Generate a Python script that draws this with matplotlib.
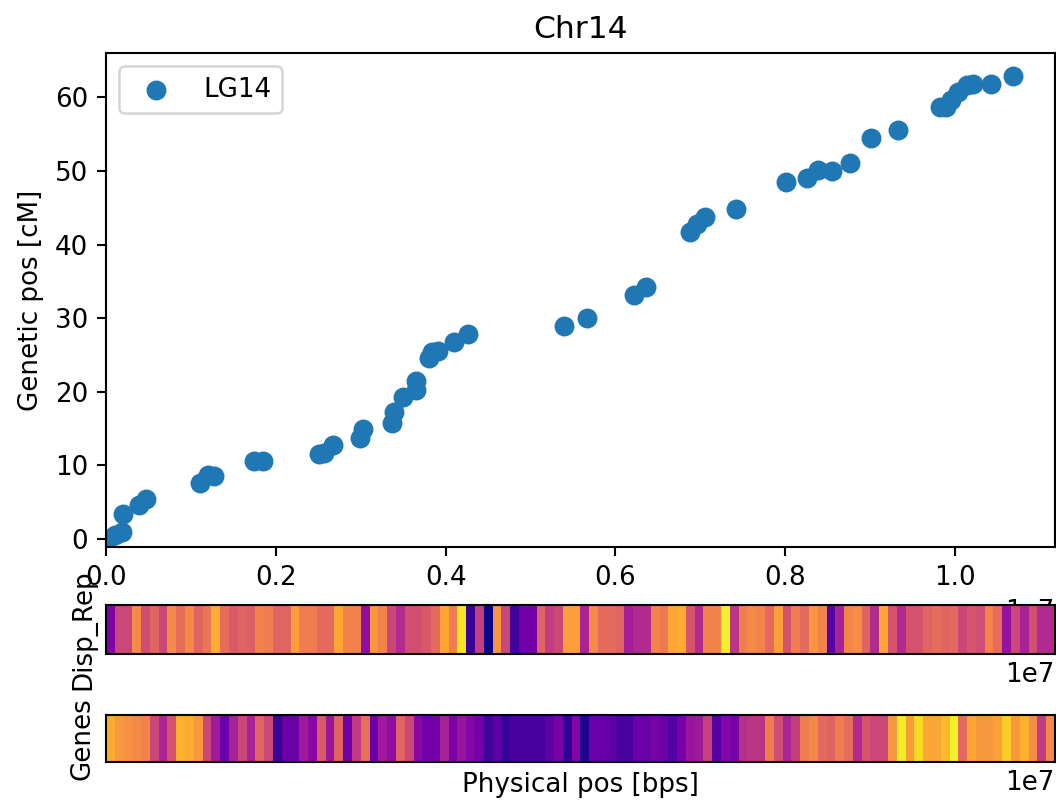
import numpy as np
import matplotlib
matplotlib.use("Agg")
import matplotlib.pyplot as plt

# marker positions (physical pos in units of 1e7 bp, genetic pos in cM)
phys_pos = np.array([0.002, 0.010, 0.018, 0.020, 0.039, 0.047, 0.110, 0.120, 0.127,
                     0.174, 0.184, 0.250, 0.256, 0.267, 0.299, 0.302, 0.337, 0.339,
                     0.349, 0.365, 0.365, 0.380, 0.384, 0.391, 0.410, 0.426, 0.539,
                     0.567, 0.622, 0.636, 0.688, 0.696, 0.706, 0.742, 0.801, 0.826,
                     0.839, 0.855, 0.876, 0.901, 0.933, 0.983, 0.990, 0.996, 1.004,
                     1.014, 1.021, 1.043, 1.068]) * 1e7
gen_pos = np.array([0.0, 0.6, 1.0, 3.4, 4.6, 5.5, 7.6, 8.7, 8.6,
                    10.6, 10.6, 11.6, 11.7, 12.8, 13.7, 15.0, 15.8, 17.3,
                    19.3, 20.2, 21.5, 24.6, 25.4, 25.6, 26.7, 27.9, 28.9,
                    30.0, 33.1, 34.2, 41.7, 42.8, 43.8, 44.8, 48.5, 49.1,
                    50.1, 50.0, 51.1, 54.5, 55.6, 58.7, 58.7, 59.6, 60.8,
                    61.7, 61.8, 61.8, 62.9])
chrom_len = 1.118e7

# binned densities along the chromosome (normalised 0..1)
disp_rep = np.array([
    0.25, 0.50, 0.50, 0.72, 0.52, 0.60, 0.50, 0.72, 0.63, 0.72,
    0.60, 0.66, 0.82, 0.63, 0.57, 0.60, 0.58, 0.70, 0.68, 0.60,
    0.60, 0.78, 0.68, 0.68, 0.62, 0.62, 0.80, 0.70, 0.70, 0.30,
    0.76, 0.70, 0.50, 0.40, 0.53, 0.53, 0.56, 0.62, 0.80, 0.68,
    0.95, 0.08, 0.47, 0.00, 0.75, 0.50, 0.10, 0.22, 0.22, 0.60,
    0.47, 0.50, 0.78, 0.78, 0.38, 0.72, 0.62, 0.62, 0.60, 0.36,
    0.40, 0.40, 0.70, 0.67, 0.80, 0.82, 0.55, 0.40, 0.70, 0.70,
    0.98, 0.44, 0.68, 0.72, 0.70, 0.62, 0.78, 0.54, 0.68, 0.62,
    0.75, 0.70, 0.15, 0.37, 0.71, 0.73, 0.60, 0.40, 0.80, 0.54,
    0.40, 0.54, 0.54, 0.60, 0.63, 0.60, 0.62, 0.50, 0.55, 0.52,
    0.70, 0.63, 0.32, 0.50, 0.37, 0.53, 0.40, 0.40])
genes = np.array([
    0.82, 0.76, 0.74, 0.72, 0.70, 0.50, 0.38, 0.54, 0.83, 0.82,
    0.76, 0.50, 0.35, 0.20, 0.37, 0.50, 0.37, 0.60, 0.50, 0.08,
    0.20, 0.20, 0.34, 0.28, 0.57, 0.33, 0.60, 0.22, 0.46, 0.64,
    0.20, 0.34, 0.30, 0.60, 0.50, 0.28, 0.22, 0.22, 0.37, 0.24,
    0.33, 0.27, 0.23, 0.10, 0.18, 0.07, 0.12, 0.12, 0.12, 0.12,
    0.17, 0.24, 0.06, 0.27, 0.03, 0.20, 0.20, 0.18, 0.12, 0.12,
    0.20, 0.20, 0.24, 0.21, 0.15, 0.24, 0.33, 0.34, 0.48, 0.15,
    0.27, 0.24, 0.42, 0.44, 0.44, 0.68, 0.52, 0.38, 0.47, 0.68,
    0.72, 0.62, 0.60, 0.68, 0.63, 0.40, 0.55, 0.50, 0.50, 0.76,
    0.97, 0.77, 0.93, 0.80, 0.80, 0.85, 0.98, 0.62, 0.80, 0.76,
    0.76, 0.78, 0.90, 0.76, 0.83, 0.73, 0.46, 0.72])

W, H, DPI = 1056, 805, 188
fig = plt.figure(figsize=(W / DPI, H / DPI), dpi=DPI)


def box(left, top, right, bottom):
    # pixel box -> figure fraction rect
    return [left / W, 1 - bottom / H, (right - left) / W, (bottom - top) / H]


ax = fig.add_axes(box(106.4, 53.3, 1055, 546.7))
ax.scatter(phys_pos, gen_pos, s=44, label='LG14')
ax.set_xlim(0, chrom_len)
ax.set_ylim(-1.05, 66)
ax.set_ylabel('Genetic pos [cM]')
ax.set_title('Chr14')
ax.legend(loc='upper left')

for track, name, (top, bottom) in [(disp_rep, 'Disp_Rep', (605, 654)),
                                   (genes, 'Genes', (715, 762))]:
    a = fig.add_axes(box(106.4, top, 1055, bottom))
    a.imshow(track[np.newaxis, :], aspect='auto', cmap='plasma', vmin=0, vmax=1,
             extent=[0, chrom_len, 0, 1])
    a.set_xlim(0, chrom_len)
    a.set_yticks([])
    a.tick_params(axis='x', bottom=False, labelbottom=False)
    a.xaxis.get_offset_text().set_visible(True)
    a.set_ylabel(name)

a.set_xlabel('Physical pos [bps]')

fig.savefig('out.png', dpi=DPI)
